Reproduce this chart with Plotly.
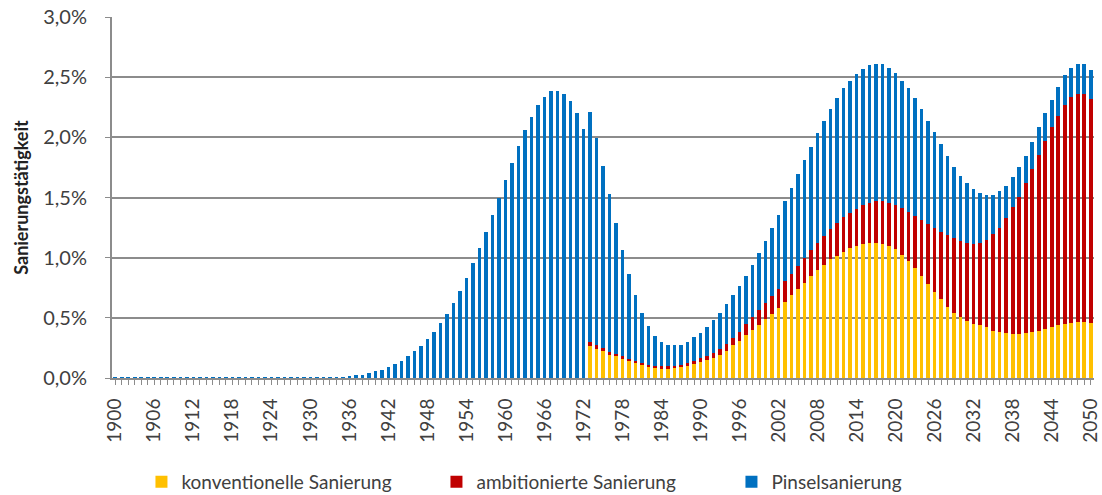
import plotly.graph_objects as go

years = list(range(1900, 2051))

# Anteil am Gebaeudebestand in Prozent (1900-2050)
konventionell = [0.0] * 73 + [
    0.264, 0.244, 0.222, 0.194, 0.18, 0.158, 0.139, 0.125, 0.111, 0.097,
    0.088, 0.083, 0.083, 0.085, 0.09, 0.103, 0.115, 0.135, 0.152, 0.17,
    0.195, 0.228, 0.275, 0.31, 0.36, 0.40, 0.444, 0.494, 0.536, 0.583,
    0.633, 0.689, 0.736, 0.792, 0.847, 0.894, 0.939, 0.986, 1.014, 1.05,
    1.078, 1.097, 1.117, 1.125, 1.125, 1.117, 1.097, 1.069, 1.022, 0.972,
    0.911, 0.847, 0.783, 0.717, 0.653, 0.589, 0.542, 0.506, 0.472, 0.45,
    0.44, 0.42, 0.394, 0.383, 0.375, 0.367, 0.367, 0.375, 0.383, 0.394,
    0.411, 0.422, 0.439, 0.45, 0.458, 0.464, 0.467, 0.458,
]

ambitioniert = [0.0] * 73 + [
    0.033, 0.028, 0.028, 0.023, 0.02, 0.022, 0.019, 0.019, 0.014, 0.014,
    0.015, 0.014, 0.014, 0.015, 0.018, 0.019, 0.025, 0.028, 0.031, 0.038,
    0.042, 0.052, 0.055, 0.07, 0.09, 0.11, 0.125, 0.131, 0.145, 0.153,
    0.173, 0.178, 0.195, 0.208, 0.214, 0.231, 0.242, 0.25, 0.278, 0.289,
    0.297, 0.306, 0.322, 0.333, 0.347, 0.355, 0.361, 0.37, 0.389, 0.411,
    0.436, 0.464, 0.495, 0.527, 0.564, 0.6, 0.619, 0.633, 0.653, 0.667,
    0.685, 0.724, 0.8, 0.867, 0.953, 1.05, 1.139, 1.242, 1.353, 1.459,
    1.561, 1.661, 1.742, 1.822, 1.875, 1.897, 1.894, 1.861,
]

pinsel = [
    0.001, 0.001, 0.001, 0.001, 0.001, 0.001, 0.001, 0.001, 0.001, 0.001,
    0.001, 0.001, 0.001, 0.001, 0.001, 0.001, 0.001, 0.001, 0.001, 0.001,
    0.002, 0.002, 0.002, 0.002, 0.002, 0.002, 0.002, 0.002, 0.002, 0.002,
    0.003, 0.003, 0.004, 0.005, 0.006,
    0.008, 0.014, 0.022, 0.028, 0.042, 0.056, 0.069, 0.094, 0.117, 0.144,
    0.18, 0.222, 0.27, 0.325, 0.38, 0.453, 0.528, 0.62, 0.722, 0.833, 0.953,
    1.078, 1.214, 1.356, 1.5, 1.647, 1.786, 1.928, 2.061, 2.172, 2.269,
    2.339, 2.381, 2.389, 2.361, 2.3, 2.2, 2.069,
    1.911, 1.722, 1.511, 1.311, 1.092, 0.887, 0.703, 0.542, 0.417, 0.32,
    0.244, 0.203, 0.175, 0.172, 0.17, 0.178, 0.199, 0.212, 0.242, 0.272,
    0.305, 0.331, 0.356, 0.384, 0.397, 0.429, 0.467, 0.514, 0.563, 0.62,
    0.661, 0.716, 0.763, 0.811, 0.861, 0.911, 0.958, 1.0, 1.036, 1.069,
    1.097, 1.125, 1.126, 1.139, 1.134, 1.134, 1.12, 1.094, 1.061, 1.025,
    0.981, 0.925, 0.861, 0.798, 0.727, 0.658, 0.595, 0.542, 0.492, 0.452,
    0.41, 0.378, 0.328, 0.3, 0.269, 0.25, 0.244, 0.23, 0.222, 0.23,
    0.228, 0.228, 0.241, 0.242, 0.245, 0.25, 0.25, 0.237,
]

series_names = ["konventionelle Sanierung", "ambitionierte Sanierung", "Pinselsanierung"]
colors = ["#FFC000", "#C00000", "#0070C0"]

font = "Lato, 'Noto Sans', sans-serif"
grey = "#8C8C8C"

fig = go.Figure()
for name, vals, col in zip(series_names, [konventionell, ambitioniert, pinsel], colors):
    fig.add_trace(go.Bar(x=years, y=vals, name=name, marker_color=col,
                         marker_line_width=0))

# figure is a little taller than the window so the bottom legend fits without
# pushing the plot area up; the extra strip is hidden below the fold
fig.update_layout(
    barmode="stack",
    bargap=0.45,
    width=1102, height=510,
    margin=dict(l=112, r=8, t=17, b=132),
    plot_bgcolor="white", paper_bgcolor="white",
    separators=",.",
    font=dict(family=font, color="#404040"),
    legend=dict(orientation="h", x=0.030, y=-0.288, xanchor="left", yanchor="middle",
                font=dict(size=19, family=font, color="#404040"),
                entrywidth=250, entrywidthmode="pixels", itemwidth=30,
                traceorder="normal"),
)
fig.update_xaxes(
    range=[1899.5, 2050.5], tick0=1900, dtick=6, tickangle=-90,
    tickfont=dict(size=19, family=font, color="#404040"),
    ticklabelstandoff=6, automargin=False, ticklabeloverflow="allow",
    showgrid=False, showline=True, linecolor=grey, linewidth=2,
    ticks="outside", ticklen=5, tickcolor=grey,
    minor=dict(ticks="outside", dtick=1, tick0=1900, ticklen=5, tickcolor=grey),
)
fig.update_yaxes(
    range=[0, 3], dtick=0.5, tickformat=".1f", ticksuffix="%",
    tickfont=dict(size=20, family=font, color="#404040"),
    ticklabelstandoff=14, automargin=False,
    showgrid=True, gridcolor=grey, gridwidth=1.5,
    showline=True, linecolor=grey, linewidth=2,
    ticks="outside", ticklen=5, tickcolor=grey, zeroline=False,
    title=dict(text="<b>Sanierungstätigkeit</b>", standoff=10,
               font=dict(size=18, family=font, color="#222222")),
)

fig.write_html("out.html", config={"displayModeBar": False},
               post_script="document.body.style.margin='0px';"
                           "document.body.style.overflow='hidden';")
